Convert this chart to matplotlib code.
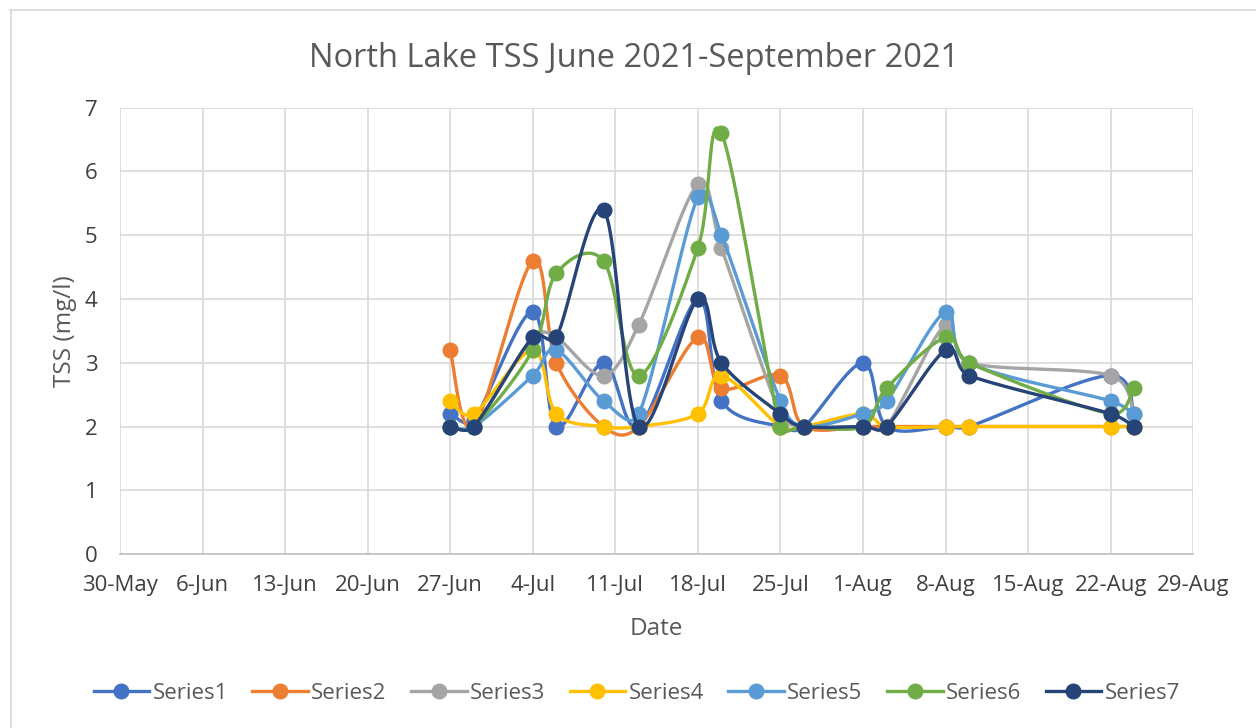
import datetime as dt

import matplotlib
matplotlib.use("Agg")
import matplotlib.pyplot as plt
import matplotlib.dates as mdates
from matplotlib.lines import Line2D
import numpy as np

plt.rcParams["font.family"] = ["Open Sans", "DejaVu Sans"]

# sampling dates (2021)
dates = ["2021-06-27", "2021-06-29", "2021-07-04", "2021-07-06", "2021-07-10",
         "2021-07-13", "2021-07-18", "2021-07-20", "2021-07-25", "2021-07-27",
         "2021-08-01", "2021-08-03", "2021-08-08", "2021-08-10", "2021-08-22",
         "2021-08-24"]

series1 = [2.2, 2.1, 3.8, 2.0, 3.0, 2.0, 4.0, 2.4, 2.0, 2.0, 3.0, 2.0, 2.0, 2.0, 2.8, 2.0]
series2 = [3.2, 2.0, 4.6, 3.0, 2.0, 2.0, 3.4, 2.6, 2.8, 2.0, 2.0, 2.0, 2.0, 2.0, 2.0, 2.0]
series3 = [2.0, 2.0, 3.4, 3.4, 2.8, 3.6, 5.8, 4.8, 2.2, 2.0, 2.0, 2.0, 3.6, 3.0, 2.8, 2.2]
series4 = [2.4, 2.2, 3.2, 2.2, 2.0, 2.0, 2.2, 2.8, 2.0, 2.0, 2.2, 2.0, 2.0, 2.0, 2.0, 2.0]
series5 = [2.0, 2.0, 2.8, 3.2, 2.4, 2.2, 5.6, 5.0, 2.4, 2.0, 2.2, 2.4, 3.8, 3.0, 2.4, 2.2]
series6 = [2.0, 2.0, 3.2, 4.4, 4.6, 2.8, 4.8, 6.6, 2.0, 2.0, 2.0, 2.6, 3.4, 3.0, 2.2, 2.6]
series7 = [2.0, 2.0, 3.4, 3.4, 5.4, 2.0, 4.0, 3.0, 2.2, 2.0, 2.0, 2.0, 3.2, 2.8, 2.2, 2.0]

series_names = ["Series1", "Series2", "Series3", "Series4", "Series5", "Series6", "Series7"]
series_colors = ["#4472C4", "#ED7D31", "#A5A5A5", "#FFC000", "#5B9BD5", "#70AD47", "#264478"]
all_series = [series1, series2, series3, series4, series5, series6, series7]

x_start = dt.date(2021, 5, 30)
x_end = dt.date(2021, 8, 29)


def smooth(x, y, sx, sy, n=40):
    # Excel-like smoothed line: bezier with catmull-rom tangents,
    # control arm capped at half the segment length (done in pixel space)
    pts = np.column_stack([np.asarray(x, float) * sx, np.asarray(y, float) * sy])
    out = [pts[0]]
    t = np.linspace(0, 1, n)[1:, None]
    for i in range(len(pts) - 1):
        p0 = pts[i - 1] if i > 0 else pts[i]
        p1 = pts[i]
        p2 = pts[i + 1]
        p3 = pts[i + 2] if i + 2 < len(pts) else pts[i + 1]
        half = np.linalg.norm(p2 - p1) / 2.0
        a1 = (p2 - p0) / 6.0
        a2 = (p3 - p1) / 6.0
        n1, n2 = np.linalg.norm(a1), np.linalg.norm(a2)
        if n1 > half and n1 > 0:
            a1 = a1 * half / n1
        if n2 > half and n2 > 0:
            a2 = a2 * half / n2
        c1 = p1 + a1
        c2 = p2 - a2
        seg = ((1 - t) ** 3) * p1 + 3 * ((1 - t) ** 2) * t * c1 + 3 * (1 - t) * t ** 2 * c2 + t ** 3 * p2
        out.extend(seg)
    out = np.array(out)
    return out[:, 0] / sx, out[:, 1] / sy


fig = plt.figure(figsize=(12.56, 7.28), dpi=100)
ax = fig.add_axes([0.0955, 0.239, 0.8545, 0.613])

xnum = mdates.date2num([dt.date.fromisoformat(d) for d in dates])
# pixel scale: ~11.8 px per day, ~63.7 px per mg/l
for vals, name, col in zip(all_series, series_names, series_colors):
    sx_, sy_ = smooth(xnum, vals, 11.8, 63.7)
    ax.plot(sx_, sy_, color=col, lw=2.4, solid_capstyle="round", zorder=3)
    ax.plot(xnum, vals, ls="none", marker="o", ms=10.5, color=col, zorder=3)

ax.set_xlim(mdates.date2num(x_start), mdates.date2num(x_end))
ax.set_ylim(0, 7)
ticks = [mdates.date2num(x_start + dt.timedelta(days=7 * k)) for k in range(14)]
ax.set_xticks(ticks)
ax.set_xticklabels([(x_start + dt.timedelta(days=7 * k)).strftime("%-d-%b") for k in range(14)])
ax.set_yticks(range(8))

ax.grid(True, color="#D9D9D9", lw=1.2, zorder=0)
ax.set_axisbelow(True)
for s in ["top", "right", "left"]:
    ax.spines[s].set_visible(False)
ax.spines["bottom"].set_color("#BFBFBF")
ax.spines["bottom"].set_linewidth(1.2)
ax.tick_params(axis="both", length=0, labelsize=16, labelcolor="#404040")
ax.tick_params(axis="x", pad=15)
ax.tick_params(axis="y", pad=16)

ax.set_xlabel("Date", fontsize=17.5, color="#595959", labelpad=15)
ax.set_ylabel("TSS (mg/l)", fontsize=17.5, color="#595959", labelpad=6)
fig.text(0.505, 0.92, "North Lake TSS June 2021-September 2021", ha="center", va="center",
         fontsize=23.5, color="#595959")

handles = [Line2D([0], [0], color=c, lw=2.4, marker="o", ms=10.5) for c in series_colors]
fig.legend(handles, series_names, loc="center", bbox_to_anchor=(0.507, 0.048), ncol=7,
           frameon=False, fontsize=16, handlelength=2.5, columnspacing=1.1, handletextpad=0.15,
           labelcolor="#595959")

# chart border
fig.add_artist(Line2D([10 / 1256, 1.0], [1 - 9.5 / 728] * 2, transform=fig.transFigure,
                      color="#D9D9D9", lw=1.2))
fig.add_artist(Line2D([10.5 / 1256] * 2, [0, 1 - 9.5 / 728], transform=fig.transFigure,
                      color="#D9D9D9", lw=1.2))

fig.savefig("out.png", dpi=100)
